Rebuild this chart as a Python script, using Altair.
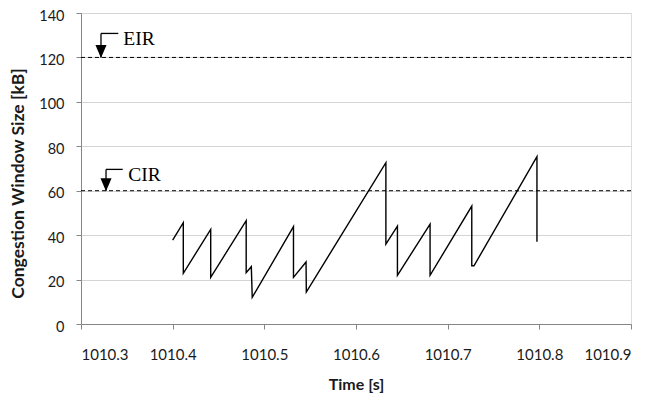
import altair as alt
import pandas as pd

# Congestion window trace (time [s], cwnd [kB])
time_s = [1010.4000, 1010.4116, 1010.4116, 1010.4415, 1010.4415, 1010.4802, 1010.4802,
          1010.4858, 1010.4868, 1010.5318, 1010.5318, 1010.5455, 1010.5458, 1010.6326,
          1010.6326, 1010.6452, 1010.6452, 1010.6808, 1010.6808, 1010.7263, 1010.7263,
          1010.7287, 1010.7974, 1010.7974]
cwnd_kb = [37.8, 45.6, 22.8, 42.6, 21.0, 46.5, 23.1,
           25.8, 12.0, 43.8, 21.0, 27.9, 14.4, 72.6,
           36.0, 44.1, 21.9, 45.0, 21.9, 53.1, 26.2,
           26.2, 75.3, 37.0]

# Rate limits
limit_names = ["EIR", "CIR"]
limit_levels = [120, 60]
arrow_x = [1010.3218, 1010.3273]
arrow_top = [130.8, 69.6]
arrow_end_x = [1010.3407, 1010.3455]
label_x = [1010.3461, 1010.3516]
label_y = [128.4, 66.9]

x_ticks = [1010.3, 1010.4, 1010.5, 1010.6, 1010.7, 1010.8, 1010.9]
y_ticks = [0, 20, 40, 60, 80, 100, 120, 140]

XT = "Time [s]"
YT = "Congestion Window Size [kB]"

trace = pd.DataFrame({"t": time_s, "v": cwnd_kb, "i": range(len(time_s))})
lim = pd.DataFrame({"name": limit_names, "v": limit_levels, "t": arrow_x,
                    "t2": arrow_end_x, "top": arrow_top,
                    "lx": label_x, "ly": label_y})

xs = alt.Scale(domain=[1010.3, 1010.9], nice=False, zero=False)
ys = alt.Scale(domain=[0, 140], nice=False)

x_axis = alt.Axis(values=x_ticks, format=".1f", grid=False, tickSize=5,
                  tickColor="#868686", domainColor="#868686",
                  labelFont="Lato", labelFontSize=15, labelColor="#1a1a1a",
                  labelPadding=18, titleFont="Lato", titleFontWeight="bold",
                  titleFontSize=16, titleColor="#1a1a1a", titleY=60,
                  titleBaseline="middle")
y_axis = alt.Axis(values=y_ticks, grid=True, gridColor="#d4d4d4", tickSize=5,
                  tickColor="#868686", domainColor="#868686",
                  labelFont="Lato", labelFontSize=14.5, labelColor="#1a1a1a",
                  labelPadding=12, labelOffset=3, titleFont="Lato",
                  titleFontWeight="bold", titleFontSize=17.5, titleColor="#1a1a1a",
                  titleX=-63, titleY=170, titleBaseline="middle")

line = alt.Chart(trace).mark_line(color="black", strokeWidth=1.4).encode(
    x=alt.X("t:Q", scale=xs, axis=x_axis, title=XT),
    y=alt.Y("v:Q", scale=ys, axis=y_axis, title=YT),
    order="i:Q",
)

base = alt.Chart(lim)

dashed = base.mark_rule(color="black", strokeWidth=1, strokeDash=[4, 3]).encode(
    y=alt.Y("v:Q", scale=ys, title=YT)
)

arrow_v = base.mark_rule(color="black", strokeWidth=1.3).encode(
    x=alt.X("t:Q", scale=xs, title=XT),
    y=alt.Y("top:Q", scale=ys, title=YT),
    y2="v:Q",
)

arrow_h = base.mark_rule(color="black", strokeWidth=1.3).encode(
    x=alt.X("t:Q", scale=xs, title=XT),
    x2="t2:Q",
    y=alt.Y("top:Q", scale=ys, title=YT),
)

heads = base.mark_point(shape="M-0.85,-1L0.85,-1L0,1Z", size=170, filled=True,
                        color="black", opacity=1, yOffset=-6).encode(
    x=alt.X("t:Q", scale=xs, title=XT),
    y=alt.Y("v:Q", scale=ys, title=YT),
)

labels = base.mark_text(align="left", baseline="middle", font="Liberation Serif",
                        fontSize=19.5, color="black").encode(
    x=alt.X("lx:Q", scale=xs, title=XT),
    y=alt.Y("ly:Q", scale=ys, title=YT),
    text="name:N",
)

chart = alt.layer(line, dashed, arrow_v, arrow_h, heads, labels).properties(
    width=550, height=311,
    autosize=alt.AutoSizeParams(type="none"),
    padding={"left": 73, "top": 5, "right": 20, "bottom": 70},
).configure_view(stroke="#d4d4d4", strokeWidth=1).configure(background="white")

chart.save("out.html", embed_options={"renderer": "svg", "actions": False})
